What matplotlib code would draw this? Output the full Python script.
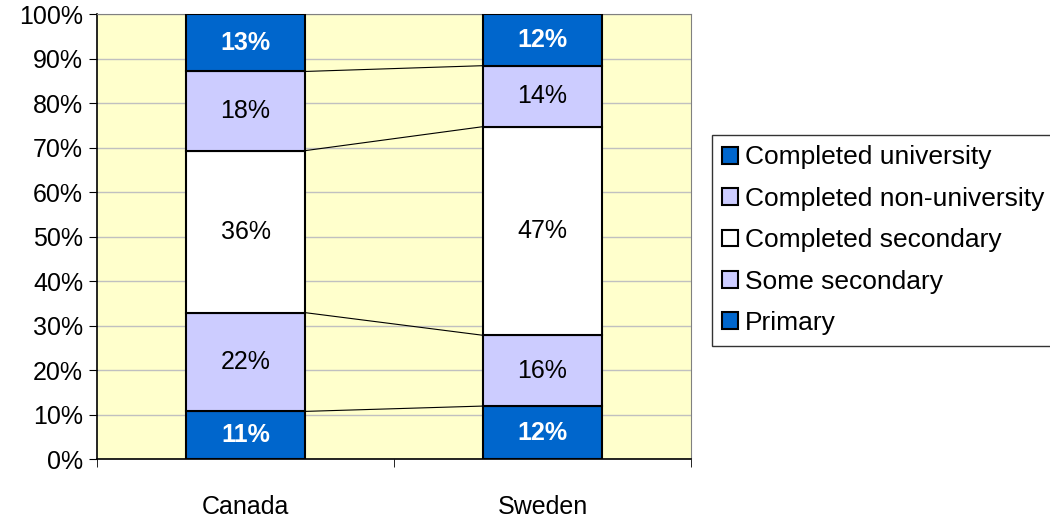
import matplotlib.pyplot as plt
import numpy as np

plt.rcParams['font.family'] = ['Liberation Sans', 'DejaVu Sans']

countries = ['Canada', 'Sweden']
levels = ['Primary', 'Some secondary', 'Completed secondary',
          'Completed non-university', 'Completed university']
canada = [10.7, 22.2, 36.4, 17.8, 12.9]
sweden = [11.9, 15.9, 46.9, 13.7, 11.6]
colors = ['#0066CC', '#CCCCFF', '#FFFFFF', '#CCCCFF', '#0066CC']
text_colors = ['white', 'black', 'black', 'black', 'white']

data = np.array([canada, sweden])
x = np.arange(len(countries))
width = 0.4
fs = 18

fig = plt.figure(figsize=(10.5, 5.21), dpi=100)
ax = fig.add_axes([0.0924, 0.119, 0.5657, 0.854])
ax.set_facecolor('#FFFFCC')

bottom = np.zeros(len(countries))
for i, lev in enumerate(levels):
    vals = data[:, i]
    ax.bar(x, vals, width, bottom=bottom, color=colors[i], edgecolor='black',
           linewidth=1.5, label=lev, zorder=3)
    for j in range(len(countries)):
        ax.text(x[j], bottom[j] + vals[j] / 2, '%.0f%%' % vals[j],
                ha='center', va='center', fontsize=fs, color=text_colors[i],
                fontweight='bold' if text_colors[i] == 'white' else 'normal',
                zorder=4)
    bottom = bottom + vals
    # series lines between the bars
    if i < len(levels) - 1:
        ax.plot([x[0] + width / 2, x[1] - width / 2], [bottom[0], bottom[1]],
                color='black', linewidth=0.8, zorder=2)

ax.set_xlim(-0.5, 1.5)
ax.set_ylim(0, 100)
ax.set_yticks(np.arange(0, 101, 10))
ax.set_yticklabels(['%d%%' % v for v in range(0, 101, 10)])
ax.yaxis.grid(True, color='#C0C0C0', linewidth=1, zorder=0)
ax.set_axisbelow(True)

ax.set_xticks(x)
ax.set_xticklabels(countries)
ax.set_xticks([-0.5, 0.5, 1.5], minor=True)
ax.tick_params(axis='x', which='major', length=0, pad=26, labelsize=fs)
ax.tick_params(axis='x', which='minor', length=6, direction='out', color='black')
ax.tick_params(axis='y', length=6, direction='out', labelsize=fs, pad=4)

ax.spines['top'].set_color('#808080')
ax.spines['right'].set_color('#808080')
ax.spines['left'].set_linewidth(1.2)
ax.spines['bottom'].set_linewidth(1.2)

handles, labels = ax.get_legend_handles_labels()
leg = fig.legend(handles[::-1], labels[::-1], loc='upper left',
                 bbox_to_anchor=(0.678, 0.741), fontsize=19, frameon=True,
                 fancybox=False, edgecolor='black', handlelength=0.6,
                 handleheight=0.6, handletextpad=0.25, labelspacing=0.66,
                 borderpad=0.4, borderaxespad=0)
leg.get_frame().set_linewidth(1)

plt.savefig('out.png', dpi=100)
